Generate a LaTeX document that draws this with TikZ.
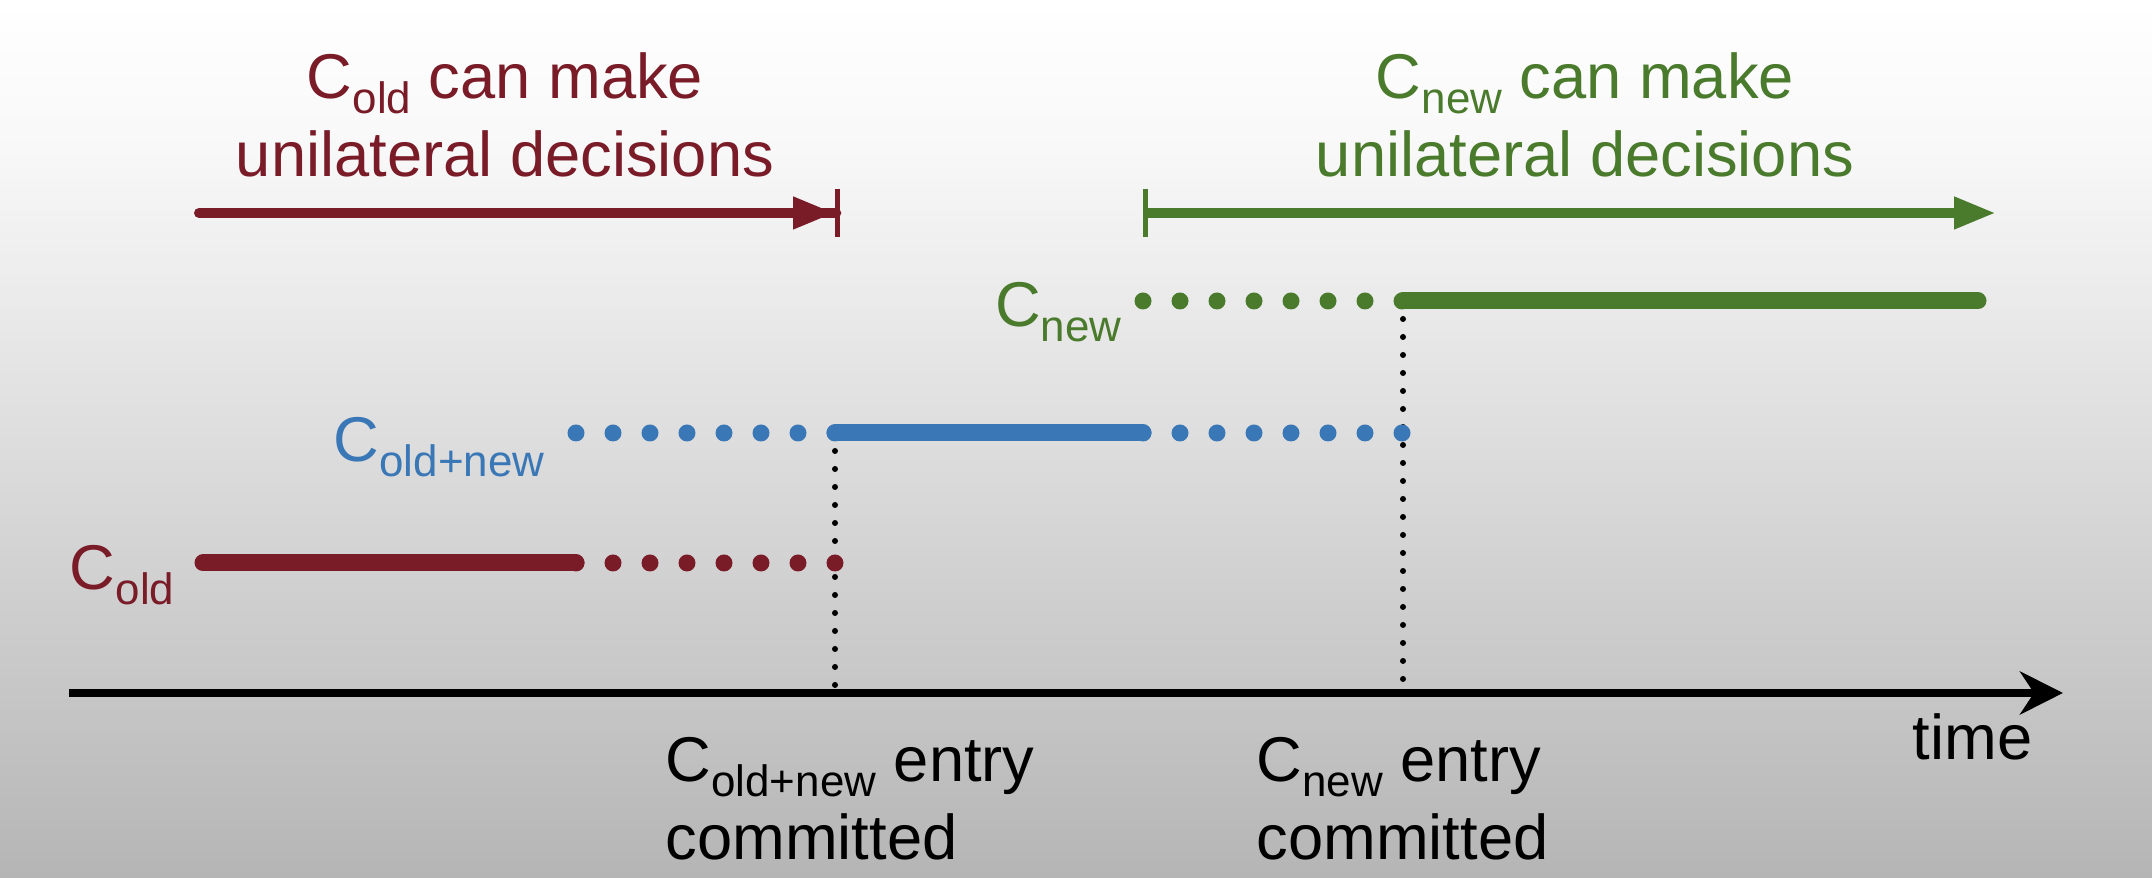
\documentclass[tikz,border=0pt]{standalone}
\usepackage{fontspec}
\setmainfont{Liberation Sans}
\usepackage{xcolor}
\usetikzlibrary{arrows.meta, calc}
\definecolor{oldc}{HTML}{7A1B28}
\definecolor{jointc}{HTML}{3A77B6}
\definecolor{newc}{HTML}{4A7A2C}
\definecolor{bgtop}{HTML}{F8F8F8}
\definecolor{bgbot}{HTML}{B5B5B5}
\newcommand{\cfg}[1]{C\raisebox{-0.15cm}{\fontsize{12.5}{13}\selectfont #1}}
\tikzstyle{lbl}     = [inner sep=0pt, font=\fontsize{18}{22.4}\selectfont]
\tikzstyle{phase}   = [line width=0.17cm, line cap=round]
\tikzstyle{pending} = [line width=0.17cm, line cap=round,
                       dash pattern=on 0pt off 0.37cm]
\tikzstyle{commit}  = [line width=0.06cm, line cap=round,
                       dash pattern=on 0pt off 0.18cm]
\tikzstyle{rangearrow} = [line width=0.1cm]
\tikzstyle{timeaxis}   = [line width=0.08cm,
                          -{Stealth[length=0.43cm, width=0.43cm]}]

\begin{document}
\begin{tikzpicture}

  %% background
  \useasboundingbox (0,0) rectangle (21.52,8.78);
  \shade[top color=white, bottom color=bgtop] (0,7.28) rectangle (21.52,8.78);
  \shade[top color=bgtop, bottom color=bgbot] (0,0) rectangle (21.52,7.28);

  %% points on the three configuration levels
  \coordinate (old-a) at (2.03,3.15);
  \coordinate (old-b) at (5.76,3.15);
  \coordinate (old-c) at (8.36,3.15);
  \coordinate (mid-a) at (5.76,4.45);
  \coordinate (mid-b) at (8.35,4.45);
  \coordinate (mid-c) at (11.43,4.45);
  \coordinate (mid-d) at (14.03,4.45);
  \coordinate (new-a) at (11.43,5.77);
  \coordinate (new-b) at (14.03,5.77);
  \coordinate (new-c) at (19.78,5.77);

  %% time axis and commit points
  \coordinate (ax-a) at (0.69,1.85);
  \coordinate (ax-b) at (20.63,1.85);
  \coordinate (c1) at (8.35,1.85);
  \coordinate (c2) at (14.03,1.85);

  \draw[timeaxis] (ax-a) -- (ax-b);
  \draw[commit] (mid-b) -- (c1);
  \draw[commit] (new-b) -- (c2);

  %% C_old
  \draw[phase, oldc] (old-a) -- (old-b);
  \draw[pending, oldc] (old-b) -- (old-c);
  %% C_old+new
  \draw[pending, jointc] (mid-a) -- (mid-b);
  \draw[pending, jointc] (mid-c) -- (mid-d);
  \draw[phase, jointc] (mid-b) -- (mid-c);
  %% C_new
  \draw[pending, newc] (new-a) -- (new-b);
  \draw[phase, newc] (new-b) -- (new-c);

  \node[lbl, text=oldc, anchor=base east] (oldlbl) at (1.75,2.88) {\cfg{old}};
  \node[lbl, text=jointc, anchor=base east] (jointlbl) at (5.45,4.16) {\cfg{old+new}};
  \node[lbl, text=newc, anchor=base east] (newlbl) at (11.22,5.51) {\cfg{new}};

  %% who decides
  \coordinate (oldspan-a) at (1.99,6.65);
  \coordinate (oldspan-b) at (8.40,6.65);
  \coordinate (newspan-a) at (11.43,6.65);
  \coordinate (newspan-b) at (19.96,6.65);
  \draw[rangearrow, oldc, line cap=round,
        -{Triangle[length=0.42cm, width=0.3cm] Bar[width=0.48cm, line width=0.05cm]}]
        (oldspan-a) -- (oldspan-b);
  \draw[rangearrow, newc,
        {Bar[width=0.48cm, line width=0.05cm]}-{Triangle[length=0.42cm, width=0.3cm]}]
        (newspan-a) -- (newspan-b);

  \node[lbl, text=oldc, align=center, anchor=base] (oldtxt) at (5.05,7.01)
        {\cfg{old} can make\\unilateral decisions};
  \node[lbl, text=newc, align=center, anchor=base] (newtxt) at (15.85,7.01)
        {\cfg{new} can make\\unilateral decisions};

  %% commit labels
  \node[lbl, align=left, anchor=base west] (c1lbl) at (6.65,0.18)
        {\cfg{old+new} entry\\committed};
  \node[lbl, align=left, anchor=base west] (c2lbl) at (12.56,0.18)
        {\cfg{new} entry\\committed};
  \node[lbl, anchor=base west] (timelbl) at (19.12,1.18) {time};

\end{tikzpicture}
\end{document}
